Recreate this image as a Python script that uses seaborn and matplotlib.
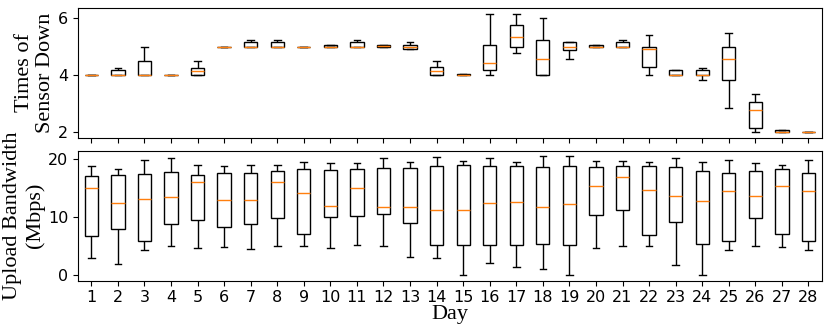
import pandas as pd
import numpy as np
import matplotlib
matplotlib.use("Agg")
import matplotlib.pyplot as plt
import seaborn as sns


days = list(range(1, 29))

# five-number summaries: low whisker, q1, median, q3, high whisker
down_lo  = [4.0, 4.0, 4.0, 4.0, 4.0, 5.0, 5.0, 5.0, 5.0, 5.0, 5.0, 5.0, 4.93, 4.0,
            4.0, 4.0, 4.76, 4.0, 4.58, 5.0, 5.0, 4.0, 4.0, 3.83, 2.83, 2.0, 2.0, 2.0]
down_q1  = [4.0, 4.0, 4.0, 4.0, 4.0, 5.0, 5.0, 5.0, 5.0, 5.0, 5.0, 5.0, 4.93, 4.0,
            4.0, 4.18, 5.0, 4.0, 4.89, 5.0, 5.0, 4.29, 4.0, 4.0, 3.82, 2.12, 2.0, 2.0]
down_med = [4.0, 4.0, 4.0, 4.0, 4.15, 5.0, 5.0, 5.0, 5.0, 5.0, 5.0, 5.02, 5.0, 4.13,
            4.0, 4.43, 5.34, 4.58, 5.0, 5.0, 5.0, 4.93, 4.0, 4.0, 4.58, 2.75, 2.0, 2.0]
down_q3  = [4.0, 4.17, 4.5, 4.0, 4.25, 5.0, 5.17, 5.17, 5.0, 5.06, 5.17, 5.05, 5.07, 4.29,
            4.02, 5.07, 5.76, 5.25, 5.17, 5.05, 5.17, 5.0, 4.17, 4.18, 5.0, 3.04, 2.06, 2.0]
down_hi  = [4.0, 4.25, 5.0, 4.0, 4.5, 5.0, 5.25, 5.25, 5.0, 5.06, 5.25, 5.05, 5.17, 4.5,
            4.02, 6.17, 6.17, 6.0, 5.17, 5.05, 5.25, 5.42, 4.17, 4.25, 5.5, 3.32, 2.06, 2.0]

bw_lo  = [2.8, 1.9, 4.2, 4.9, 4.7, 4.75, 4.5, 4.9, 4.9, 4.7, 5.1, 4.9, 3.0, 2.8,
          0.0, 2.1, 1.4, 1.05, 0.0, 4.6, 5.0, 5.0, 1.6, 0.0, 4.2, 5.0, 4.75, 4.2]
bw_q1  = [6.7, 8.0, 5.9, 8.7, 9.4, 8.2, 8.8, 9.8, 7.0, 9.95, 10.1, 10.6, 9.0, 5.2,
          5.2, 5.2, 5.2, 5.3, 5.2, 10.35, 11.3, 6.8, 9.1, 5.4, 5.8, 9.8, 7.1, 5.9]
bw_med = [15.0, 12.5, 13.2, 13.4, 16.0, 13.0, 13.0, 16.1, 14.2, 11.9, 15.1, 11.7, 11.7, 11.2,
          11.3, 12.4, 12.6, 11.8, 12.2, 15.4, 17.0, 14.6, 13.7, 12.8, 14.5, 13.6, 15.4, 14.5]
bw_q3  = [17.2, 17.3, 17.4, 17.8, 17.3, 17.7, 17.6, 17.9, 18.4, 18.1, 18.3, 18.5, 18.5, 18.9,
          19.0, 18.8, 18.8, 18.6, 18.9, 18.7, 18.9, 18.8, 18.6, 18.0, 17.6, 17.9, 18.3, 17.6]
bw_hi  = [18.8, 18.4, 19.9, 20.3, 19.1, 18.8, 19.1, 19.0, 19.5, 19.4, 19.4, 20.3, 19.6, 20.4,
          19.7, 20.2, 19.5, 20.5, 20.5, 19.8, 19.7, 19.5, 20.2, 19.5, 19.9, 19.3, 19.1, 19.9]


def long_form(lo, q1, med, q3, hi):
    rows = []
    for d, vals in zip(days, zip(lo, q1, med, q3, hi)):
        for v in vals:
            rows.append({"Day": d, "value": v})
    return pd.DataFrame(rows)


df_down = long_form(down_lo, down_q1, down_med, down_q3, down_hi)
df_bw = long_form(bw_lo, bw_q1, bw_med, bw_q3, bw_hi)

fig, axes = plt.subplots(2, 1, figsize=(8.3, 3.32), dpi=100, sharex=True)
fig.subplots_adjust(left=0.094, right=0.99, top=0.977, bottom=0.155, hspace=0.1)

box_kw = dict(x="Day", y="value", whis=(0, 100), width=0.5, showfliers=False,
              color="white", linecolor="black", linewidth=1,
              medianprops={"color": "#ff7f0e"})

sns.boxplot(data=df_down, ax=axes[0], **box_kw)
sns.boxplot(data=df_bw, ax=axes[1], **box_kw)

serif = ["Liberation Serif", "DejaVu Serif"]
axes[0].set_ylabel("Times of\nSensor Down", fontsize=16, family=serif, labelpad=2)
axes[1].set_ylabel("Upload Bandwidth\n(Mbps)", fontsize=16, family=serif, labelpad=2)
axes[0].set_xlabel("")
axes[1].set_xlabel("Day", fontsize=16, family=serif, labelpad=0)

axes[0].set_yticks([2, 4, 6])
axes[1].set_yticks([0, 10, 20])
for ax in axes:
    ax.tick_params(labelsize=11.5)
    ax.set_xlim(-0.5, 27.5)

plt.savefig("out.png", dpi=100)
